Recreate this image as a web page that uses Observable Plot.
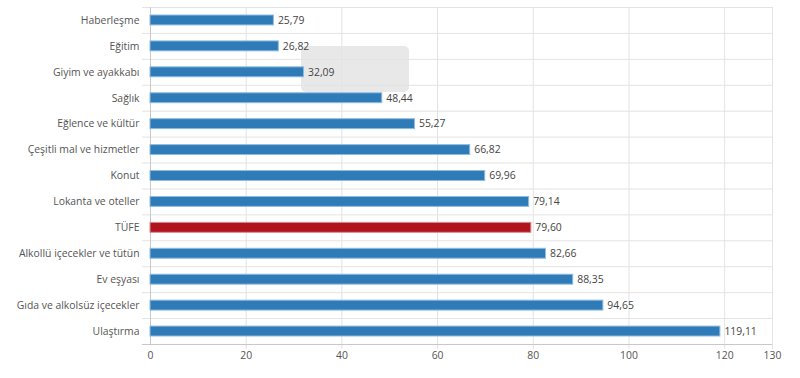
<!DOCTYPE html>
<html><head><meta charset="utf-8">
<script src="https://cdn.jsdelivr.net/npm/d3@7"></script>
<script src="https://cdn.jsdelivr.net/npm/@observablehq/plot@0.6"></script>
<style>
body{margin:0;background:#fff;font-family:"Open Sans",sans-serif;}
#wrap{position:relative;width:800px;height:378px;}
#chart{position:absolute;left:0;top:0;z-index:2;}
#ghost{position:absolute;left:301px;top:46px;width:108px;height:46px;border-radius:5px;background:#e8e8e8;z-index:1;}
</style></head>
<body><div id="wrap"><div id="ghost"></div><div id="chart"></div></div>
<script>
const categories = ["Haberleşme","Eğitim","Giyim ve ayakkabı","Sağlık","Eğlence ve kültür","Çeşitli mal ve hizmetler","Konut","Lokanta ve oteller","TÜFE","Alkollü içecekler ve tütün","Ev eşyası","Gıda ve alkolsüz içecekler","Ulaştırma"];
const values = [25.79,26.82,32.09,48.44,55.27,66.82,69.96,79.14,79.60,82.66,88.35,94.65,119.11];
const highlight = "TÜFE";
const xTicks = [0,20,40,60,80,100,120,130];

const data = categories.map((c,i)=>({cat:c, v:values[i]}));
const W=800,H=378,mt=7,mb=34,ml=150,mr=28;
const step=(H-mt-mb)/categories.length;
const fmt = v => v.toFixed(2).replace(".", ",");
const fs = 10.4;

const chart = Plot.plot({
  width:W, height:H, marginTop:mt, marginBottom:mb, marginLeft:ml, marginRight:mr,
  style:{fontFamily:"Open Sans, sans-serif", fontSize:fs+"px", color:"#555", background:"transparent"},
  x:{domain:[0,130], ticks:xTicks, label:null, tickSize:0},
  y:{domain:categories, padding:0, round:false, label:null, tickSize:0},
  marks:[
    Plot.ruleX(xTicks.filter(t=>t>0), {stroke:"#e3e3e3", strokeWidth:1, insetBottom:-5}),
    Plot.ruleY(categories, {y:d=>d, x1:0, x2:130, dy:-step/2, stroke:"#e3e3e3", insetLeft:-8}),
    Plot.ruleX([0], {stroke:"#c8c8c8"}),
    Plot.ruleY([categories[categories.length-1]], {y:d=>d, x1:0, x2:130, dy:step/2, stroke:"#c8c8c8", insetLeft:-8}),
    Plot.barX(data, {x:"v", y:"cat", insetTop:8, insetBottom:8,
      fill:d=>d.cat===highlight?"#b0151e":"#2f7bb8",
      stroke:d=>d.cat===highlight?"#d98a8f":"#8fbbe0", strokeWidth:1}),
    Plot.text(data, {x:"v", y:"cat", text:d=>fmt(d.v), textAnchor:"start", dx:4, fill:"#444", fontSize:fs}),
    Plot.axisX({ticks:xTicks, tickSize:0, tickPadding:7, fill:"#555", fontSize:fs}),
    Plot.axisY({tickSize:0, tickPadding:11, fill:"#555", fontSize:fs})
  ]
});
document.getElementById("chart").appendChild(chart);
</script></body></html>
